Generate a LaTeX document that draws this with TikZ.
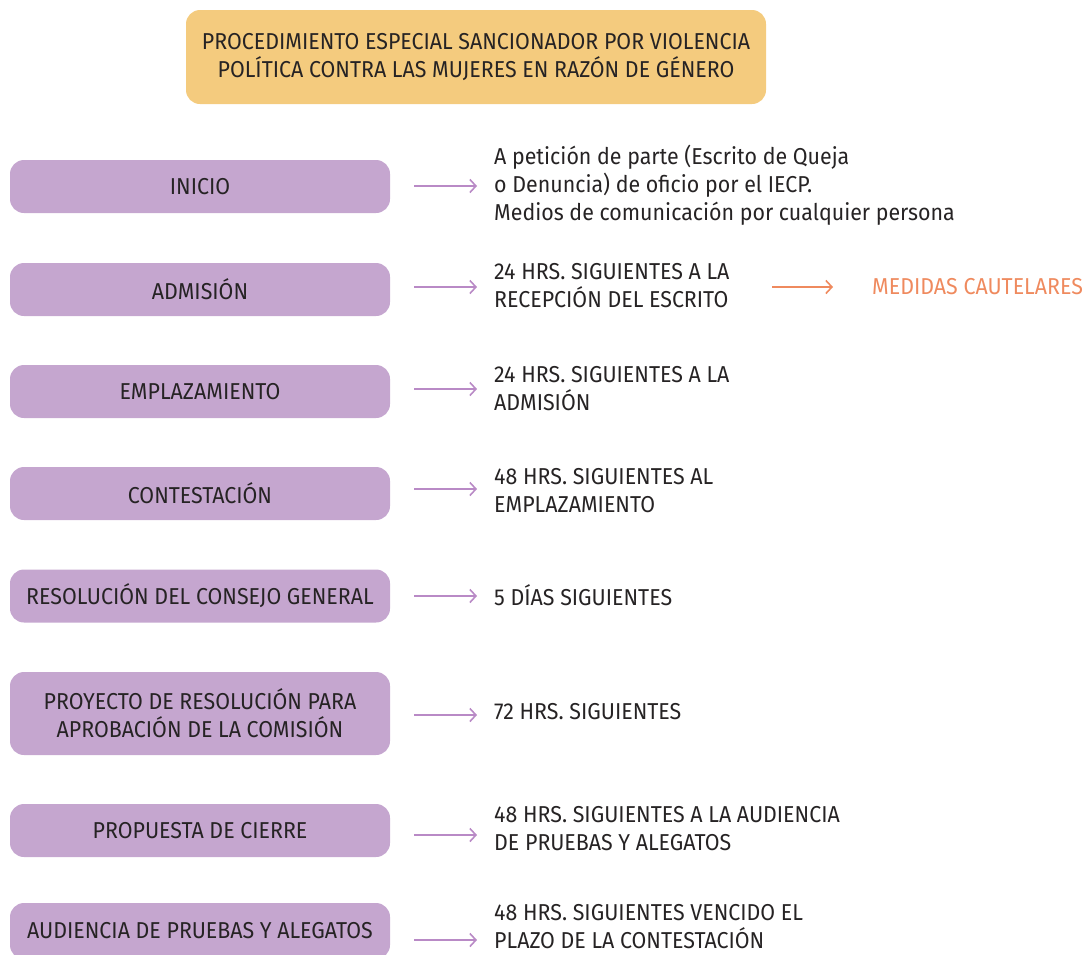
\documentclass[tikz,border=0pt]{standalone}
\usepackage{fontspec}
\setmainfont[FakeStretch=0.93]{Fira Sans}
\usetikzlibrary{arrows.meta}
\definecolor{titlefill}{HTML}{F4CB7E}
\definecolor{stepfill}{HTML}{C5A6CF}
\definecolor{arrowpurple}{HTML}{B98AC6}
\definecolor{accent}{HTML}{EF8A5E}
\definecolor{ink}{HTML}{262324}
\begin{document}
\begin{tikzpicture}[x=1pt,y=-1pt,
  every node/.style={font=\fontsize{23}{28}\selectfont, text=ink},
  titlebox/.style={fill=titlefill, rounded corners=14pt, minimum width=580pt, minimum height=94pt, align=center, inner sep=0pt},
  stepbox/.style={fill=stepfill, rounded corners=14pt, minimum width=380pt, minimum height=53pt, align=center, inner sep=0pt},
  note/.style={anchor=west, align=left, inner sep=0pt},
  arr/.style={draw=arrowpurple, line width=1.6pt, -{Straight Barb[length=6pt,width=13pt,line width=1.6pt]}, shorten <=24pt, shorten >=17pt},
  arrorange/.style={arr, draw=accent, shorten <=0pt, shorten >=0pt}
]
\useasboundingbox (0,0) rectangle (1086,954);
\clip (0,0) rectangle (1086,954);

% heading
\node[titlebox] (title) at (476,57) {PROCEDIMIENTO ESPECIAL SANCIONADOR POR VIOLENCIA\\POLÍTICA CONTRA LAS MUJERES EN RAZÓN DE GÉNERO};

% stages
\node[stepbox] (b1) at (200,186.5) {INICIO};
\node[stepbox] (b2) at (200,289.5) {ADMISIÓN};
\node[stepbox] (b3) at (200,391.5) {EMPLAZAMIENTO};
\node[stepbox] (b4) at (200,493.5) {CONTESTACIÓN};
\node[stepbox] (b5) at (200,596) {RESOLUCIÓN DEL CONSEJO GENERAL};
\node[stepbox, minimum height=83pt] (b6) at (200,713.5) {PROYECTO DE RESOLUCIÓN PARA\\APROBACIÓN DE LA COMISIÓN};
\node[stepbox] (b7) at (200,830.5) {PROPUESTA DE CIERRE};
\node[stepbox, minimum height=56pt] (b8) at (200,931) {AUDIENCIA DE PRUEBAS Y ALEGATOS};

% time limits
\node[note] (t1) at (494,185) {A petición de parte (Escrito de Queja\\o Denuncia) de oficio por el IECP.\\Medios de comunicación por cualquier persona};
\node[note] (t2) at (494,286) {24 HRS. SIGUIENTES A LA\\RECEPCIÓN DEL ESCRITO};
\node[note] (t3) at (494,389) {24 HRS. SIGUIENTES A LA\\ADMISIÓN};
\node[note] (t4) at (494,491) {48 HRS. SIGUIENTES AL\\EMPLAZAMIENTO};
\node[note] (t5) at (494,595) {5 DÍAS SIGUIENTES};
\node[note] (t6) at (494,712) {72 HRS. SIGUIENTES};
\node[note] (t7) at (494,829) {48 HRS. SIGUIENTES A LA AUDIENCIA\\DE PRUEBAS Y ALEGATOS};
\node[note] (t8) at (494,927) {48 HRS. SIGUIENTES VENCIDO EL\\PLAZO DE LA CONTESTACIÓN};
\node[note, text=accent] (m) at (872,287) {MEDIDAS CAUTELARES};

% arrow heights
\coordinate (a1) at (0,186);
\coordinate (a2) at (0,287);
\coordinate (a3) at (0,389);
\coordinate (a4) at (0,489);
\coordinate (a5) at (0,596);
\coordinate (a6) at (0,715);
\coordinate (a7) at (0,835);
\coordinate (a8) at (0,940);
\coordinate (ms) at (772,287);
\coordinate (me) at (833,287);

\draw[arr] (b1.east |- a1) -- (t1.west |- a1);
\draw[arr] (b2.east |- a2) -- (t2.west |- a2);
\draw[arr] (b3.east |- a3) -- (t3.west |- a3);
\draw[arr] (b4.east |- a4) -- (t4.west |- a4);
\draw[arr] (b5.east |- a5) -- (t5.west |- a5);
\draw[arr] (b6.east |- a6) -- (t6.west |- a6);
\draw[arr] (b7.east |- a7) -- (t7.west |- a7);
\draw[arr] (b8.east |- a8) -- (t8.west |- a8);
\draw[arrorange] (ms) -- (me);
\end{tikzpicture}
\end{document}
